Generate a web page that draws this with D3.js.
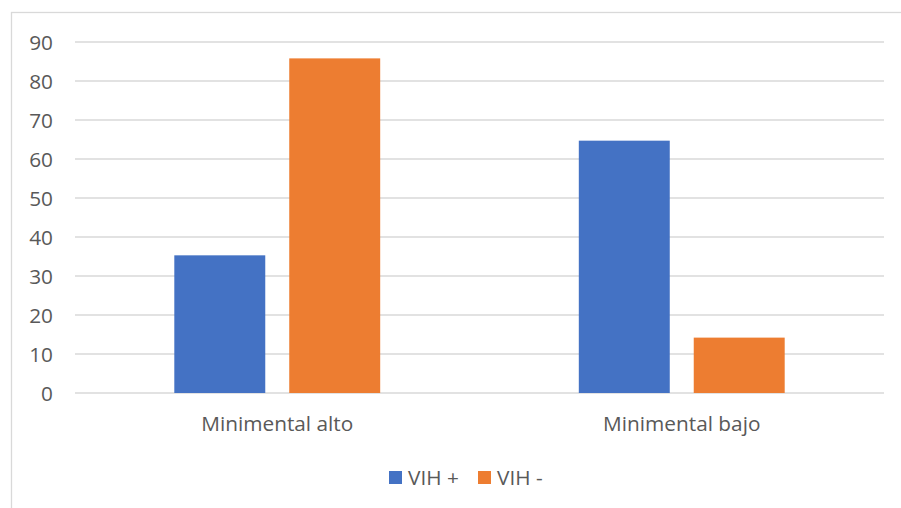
<!DOCTYPE html>
<html>
<head>
<meta charset="utf-8">
<script src="https://cdn.jsdelivr.net/npm/d3@7"></script>
<style>
  html, body { margin: 0; padding: 0; background: #ffffff; }
  svg { display: block; }
  text { font-family: "Open Sans", sans-serif; fill: #595959; }
</style>
</head>
<body>
<svg id="chart" width="901" height="508"></svg>
<script>
// Categories, series names and values (percent)
const categories = ["Minimental alto", "Minimental bajo"];
const seriesNames = ["VIH +", "VIH -"];
const vihPos = [35.3, 64.7];
const vihNeg = [85.8, 14.2];
const yTicks = [0, 10, 20, 30, 40, 50, 60, 70, 80, 90];
const colors = ["#4472c4", "#ed7d31"];

const values = [vihPos, vihNeg];
const rows = categories.map((c, i) => ({
  category: c,
  bars: seriesNames.map((s, j) => ({ series: s, value: values[j][i] }))
}));

const FONT = "'Open Sans', sans-serif";
const FS = 20.8;

const svg = d3.select("#chart");

// chart area frame
svg.append("rect")
  .attr("x", 11.5).attr("y", 12.5)
  .attr("width", 900).attr("height", 520)
  .attr("fill", "none")
  .attr("stroke", "#d9d9d9")
  .attr("stroke-width", 1.3);

const plot = { left: 75, right: 884, top: 42, bottom: 393 };

const y = d3.scaleLinear().domain([0, 90]).range([plot.bottom, plot.top]);

const x0 = d3.scaleBand()
  .domain(categories)
  .range([plot.left, plot.right])
  .paddingInner(0.491)
  .paddingOuter(0.2455);

const x1 = d3.scaleBand()
  .domain(seriesNames)
  .range([0, x0.bandwidth()])
  .paddingInner(0.2087);

const color = d3.scaleOrdinal().domain(seriesNames).range(colors);

// horizontal gridlines
svg.append("g")
  .selectAll("line")
  .data(yTicks)
  .join("line")
  .attr("x1", plot.left).attr("x2", plot.right)
  .attr("y1", d => y(d)).attr("y2", d => y(d))
  .attr("stroke", "#d9d9d9")
  .attr("stroke-width", 1.4);

// y axis labels
const yAxis = d3.axisLeft(y).tickValues(yTicks).tickSize(0).tickPadding(0);
const yg = svg.append("g")
  .attr("transform", `translate(${plot.left - 22},0)`)
  .call(yAxis);
yg.select(".domain").remove();
yg.selectAll("text")
  .attr("font-size", FS)
  .attr("dy", "0.36em")
  .style("font-family", FONT)
  .attr("fill", "#595959");

// bars
const groups = svg.append("g")
  .selectAll("g")
  .data(rows)
  .join("g")
  .attr("transform", d => `translate(${x0(d.category)},0)`);

groups.selectAll("rect")
  .data(d => d.bars)
  .join("rect")
  .attr("x", d => x1(d.series))
  .attr("y", d => y(d.value))
  .attr("width", x1.bandwidth())
  .attr("height", d => y(0) - y(d.value))
  .attr("fill", d => color(d.series));

// x axis category labels
const xAxis = d3.axisBottom(x0).tickSize(0).tickPadding(0);
const xg = svg.append("g")
  .attr("transform", `translate(0,${plot.bottom + 22.5})`)
  .call(xAxis);
xg.select(".domain").remove();
xg.selectAll("text")
  .attr("font-size", FS)
  .attr("dy", "0.75em")
  .style("font-family", FONT)
  .attr("fill", "#595959");

// legend
const legendItems = [
  { name: seriesNames[0], x: 389 },
  { name: seriesNames[1], x: 478 }
];
const legend = svg.append("g");
const li = legend.selectAll("g")
  .data(legendItems)
  .join("g")
  .attr("transform", d => `translate(${d.x},471)`);
li.append("rect")
  .attr("width", 13).attr("height", 13)
  .attr("fill", d => color(d.name));
li.append("text")
  .attr("x", 19).attr("y", 13.5)
  .attr("font-size", FS)
  .style("font-family", FONT)
  .text(d => d.name);
</script>
</body>
</html>
